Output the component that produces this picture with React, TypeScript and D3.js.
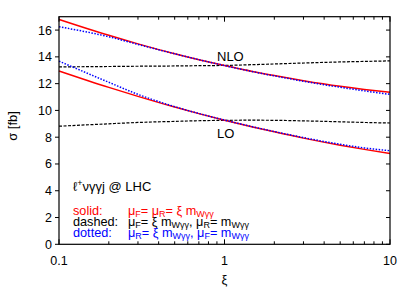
import React from 'react';
import * as d3 from 'd3';

// scale factor xi (x axis)
const xi = [0.1, 0.2, 0.3, 0.5, 0.7, 1, 1.5, 2, 3, 5, 7, 10];
// NLO curves [fb]
const nloSolid = [16.8, 15.61, 14.97, 14.23, 13.79, 13.35, 12.89, 12.6, 12.22, 11.8, 11.57, 11.36];
const nloDashed = [13.25, 13.28, 13.3, 13.32, 13.34, 13.36, 13.42, 13.47, 13.54, 13.62, 13.66, 13.7];
const nloDotted = [16.25, 15.5, 14.93, 14.23, 13.79, 13.35, 12.88, 12.58, 12.18, 11.73, 11.46, 11.2];
// LO curves [fb]
const loSolid = [12.95, 11.72, 11.05, 10.25, 9.76, 9.27, 8.75, 8.4, 7.93, 7.4, 7.09, 6.78];
const loDashed = [8.82, 9.0, 9.1, 9.18, 9.23, 9.26, 9.27, 9.26, 9.22, 9.15, 9.1, 9.06];
const loDotted = [13.68, 12.1, 11.2, 10.28, 9.77, 9.28, 8.76, 8.42, 7.97, 7.47, 7.2, 6.99];

const yTicks = [0, 2, 4, 6, 8, 10, 12, 14, 16];
const xMajor = [0.1, 1, 10];
const xMinor = [0.2, 0.3, 0.4, 0.5, 0.6, 0.7, 0.8, 0.9, 2, 3, 4, 5, 6, 7, 8, 9];

const FONT = '"Liberation Sans", Arial, Helvetica, sans-serif';

export default function App() {
  const width = 415;
  const height = 291;
  const left = 59, right = 390, top = 16.7, bottom = 244.3;

  const x = d3.scaleLog().domain([0.1, 10]).range([left, right]);
  const y = d3.scaleLinear().domain([0, 17]).range([bottom, top]);

  const line = d3.line<number>()
    .x((d, i) => x(xi[i]))
    .y((d) => y(d))
    .curve(d3.curveMonotoneX);

  const series = [
    { vals: nloDashed, color: '#000', dash: '3,1.5', w: 1.2 },
    { vals: loDashed, color: '#000', dash: '3,1.5', w: 1.2 },
    { vals: nloSolid, color: '#ff0000', dash: null, w: 1.5 },
    { vals: loSolid, color: '#ff0000', dash: null, w: 1.5 },
    { vals: nloDotted, color: '#0000ff', dash: '1.5,1.5', w: 1.5 },
    { vals: loDotted, color: '#0000ff', dash: '1.5,1.5', w: 1.5 },
  ];

  const fs = 13;
  const lfs = 12.7;
  const sub = (t: string) => (
    <tspan dy={2.5} fontSize={9}>{t}</tspan>
  );
  const back = (s: string) => <tspan dy={-2.5}>{s}</tspan>;

  return (
    <svg width={width} height={height} style={{ position: 'absolute', left: 0, top: 0, background: '#fff' }}
      fontFamily={FONT}>
      {/* curves */}
      {series.map((s, i) => (
        <path key={i} d={line(s.vals) || ''} fill="none" stroke={s.color}
          strokeWidth={s.w} strokeDasharray={s.dash || undefined} />
      ))}

      {/* frame */}
      <rect x={left} y={top} width={right - left} height={bottom - top}
        fill="none" stroke="#000" strokeWidth={1.2} />

      {/* y ticks */}
      {yTicks.map((t) => (
        <g key={t}>
          <line x1={left - 4} x2={left} y1={y(t)} y2={y(t)} stroke="#000" />
          <line x1={right - 4} x2={right} y1={y(t)} y2={y(t)} stroke="#000" />
          <text x={left - 7} y={y(t) + 4.5} fontSize={12.5} textAnchor="end">{t}</text>
        </g>
      ))}

      {/* x ticks */}
      {xMajor.map((t) => (
        <g key={t}>
          <line x1={x(t)} x2={x(t)} y1={bottom} y2={bottom - 5} stroke="#000" />
          <line x1={x(t)} x2={x(t)} y1={top} y2={top + 5} stroke="#000" />
          <text x={x(t)} y={265} fontSize={12.5} textAnchor="middle">{t}</text>
        </g>
      ))}
      {xMinor.map((t) => (
        <g key={t}>
          <line x1={x(t)} x2={x(t)} y1={bottom} y2={bottom - 3} stroke="#000" />
          <line x1={x(t)} x2={x(t)} y1={top} y2={top + 3} stroke="#000" />
        </g>
      ))}

      {/* axis titles */}
      <text x={x(1)} y={284} fontSize={fs} textAnchor="middle">ξ</text>
      <text transform={`translate(17, 126) rotate(-90)`} fontSize={fs} textAnchor="middle">σ [fb]</text>

      {/* curve labels */}
      <text x={217} y={60.5} fontSize={fs}>NLO</text>
      <text x={217} y={138} fontSize={fs}>LO</text>

      {/* process label */}
      <text x={73} y={191} fontSize={fs}>
        <tspan>ℓ</tspan>
        <tspan dy={-5} fontSize={9}>+</tspan>
        <tspan dy={5}>νγγj @ LHC</tspan>
      </text>

      {/* legend */}
      <text x={73} y={214.5} fontSize={lfs} fill="#ff0000">solid:</text>
      <text x={128} y={214.5} fontSize={lfs} fill="#ff0000">
        μ{sub('F')}{back('= μ')}{sub('R')}{back('= ξ m')}{sub('Wγγ')}
      </text>
      <text x={73} y={225.5} fontSize={lfs} fill="#000">dashed:</text>
      <text x={128} y={225.5} fontSize={lfs} fill="#000">
        μ{sub('F')}{back('= ξ m')}{sub('Wγγ')}{back(', μ')}{sub('R')}{back('= m')}{sub('Wγγ')}
      </text>
      <text x={73} y={236.5} fontSize={lfs} fill="#0000ff">dotted:</text>
      <text x={128} y={236.5} fontSize={lfs} fill="#0000ff">
        μ{sub('R')}{back('= ξ m')}{sub('Wγγ')}{back(', μ')}{sub('F')}{back('= m')}{sub('Wγγ')}
      </text>
    </svg>
  );
}
